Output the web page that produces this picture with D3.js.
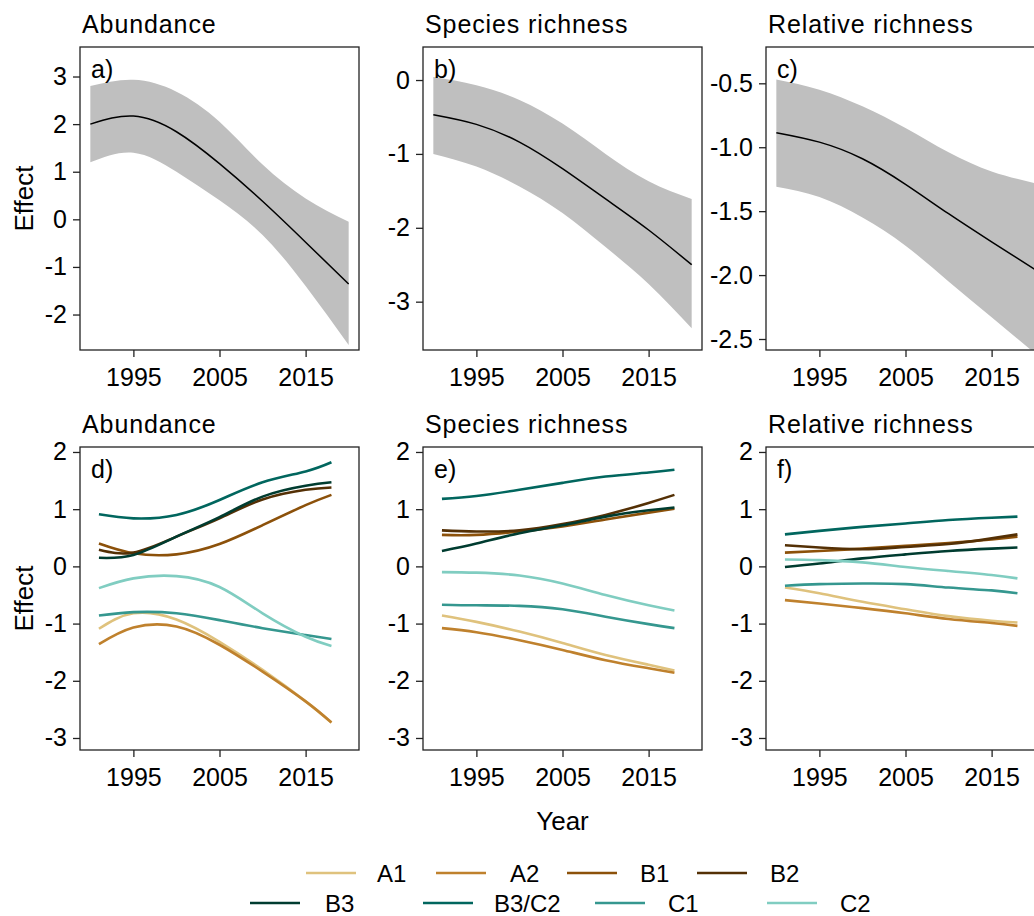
<!DOCTYPE html>
<html>
<head>
<meta charset="utf-8">
<script src="https://cdn.jsdelivr.net/npm/d3@7"></script>
<style>
  html, body { margin: 0; padding: 0; background: #fff; }
  svg { display: block; }
  text { font-family: "Liberation Sans", Arial, Helvetica, sans-serif; fill: #000; }
</style>
</head>
<body>
<svg id="chart" width="1034" height="916"></svg>
<script>
// ---- Top row: overall trend with confidence band ----
const topTitles = ["Abundance", "Species richness", "Relative richness"];
const topLetters = ["a)", "b)", "c)"];

const yearsA = [1990, 1995, 2000, 2005, 2010, 2015, 2020];
const meanA  = [2.00, 2.17, 1.84, 1.17, 0.38, -0.48, -1.36];
const lowA   = [1.20, 1.40, 1.00, 0.40, -0.33, -1.40, -2.64];
const highA  = [2.80, 2.93, 2.68, 2.05, 1.15, 0.44, -0.05];

const yearsB = [1990, 1995, 2000, 2005, 2010, 2015, 2020];
const meanB  = [-0.47, -0.60, -0.84, -1.20, -1.61, -2.03, -2.50];
const lowB   = [-1.00, -1.17, -1.44, -1.80, -2.26, -2.76, -3.36];
const highB  = [0.04, -0.07, -0.27, -0.59, -1.00, -1.37, -1.61];

const yearsC = [1990, 1995, 2000, 2005, 2010, 2015, 2020];
const meanC  = [-0.886, -0.96, -1.09, -1.29, -1.52, -1.74, -1.955];
const lowC   = [-1.31, -1.39, -1.55, -1.77, -2.05, -2.33, -2.61];
const highC  = [-0.47, -0.55, -0.68, -0.85, -1.04, -1.19, -1.28];

const topYTicks = [[-2, -1, 0, 1, 2, 3], [-3, -2, -1, 0], [-2.5, -2.0, -1.5, -1.0, -0.5]];
const topYDomains = [[-2.745, 3.62], [-3.654, 0.447], [-2.586, -0.216]];
const topYDecimals = [0, 0, 1];

// ---- Bottom row: trends by group ----
const bottomTitles = ["Abundance", "Species richness", "Relative richness"];
const bottomLetters = ["d)", "e)", "f)"];
const groups = ["A1", "A2", "B1", "B2", "B3", "B3/C2", "C1", "C2"];
const groupColors = ["#dfc27d", "#bf812d", "#8c510a", "#543005", "#003c30", "#01665e", "#35978f", "#80cdc1"];
const groupYears = [1991, 1995, 2000, 2005, 2010, 2015, 2018];

// abundance, per group (same order as groups)
const abundance = [
  [-1.09, -0.82, -0.93, -1.32, -1.81, -2.36, -2.73],  // A1
  [-1.36, -1.07, -1.05, -1.37, -1.84, -2.36, -2.73],  // A2
  [0.40, 0.23, 0.21, 0.39, 0.72, 1.07, 1.25],         // B1
  [0.29, 0.24, 0.52, 0.84, 1.17, 1.34, 1.38],         // B2
  [0.15, 0.20, 0.52, 0.86, 1.22, 1.41, 1.47],         // B3
  [0.91, 0.84, 0.90, 1.16, 1.47, 1.66, 1.82],         // B3/C2
  [-0.86, -0.80, -0.82, -0.94, -1.08, -1.20, -1.27],  // C1
  [-0.38, -0.21, -0.17, -0.36, -0.82, -1.23, -1.39]   // C2
];
// species richness
const richness = [
  [-0.86, -0.97, -1.14, -1.34, -1.55, -1.72, -1.82],
  [-1.08, -1.15, -1.29, -1.46, -1.64, -1.78, -1.86],
  [0.55, 0.55, 0.61, 0.70, 0.82, 0.94, 1.01],
  [0.63, 0.61, 0.63, 0.74, 0.90, 1.11, 1.25],
  [0.27, 0.40, 0.58, 0.72, 0.87, 0.98, 1.03],
  [1.18, 1.23, 1.34, 1.46, 1.57, 1.64, 1.69],
  [-0.67, -0.68, -0.69, -0.75, -0.88, -1.01, -1.08],
  [-0.10, -0.11, -0.16, -0.30, -0.50, -0.68, -0.77]
];
// relative richness
const relRichness = [
  [-0.37, -0.47, -0.62, -0.75, -0.87, -0.95, -0.98],
  [-0.59, -0.65, -0.73, -0.82, -0.92, -0.99, -1.04],
  [0.24, 0.27, 0.31, 0.36, 0.41, 0.47, 0.52],
  [0.37, 0.33, 0.30, 0.34, 0.39, 0.49, 0.56],
  [-0.01, 0.05, 0.14, 0.21, 0.27, 0.31, 0.33],
  [0.56, 0.62, 0.69, 0.75, 0.81, 0.85, 0.87],
  [-0.34, -0.31, -0.30, -0.31, -0.37, -0.42, -0.47],
  [0.12, 0.11, 0.07, -0.01, -0.08, -0.15, -0.21]
];
const bottomYTicks = [-3, -2, -1, 0, 1, 2];
const bottomYDomain = [-3.21, 2.087];

const xTicks = [1995, 2005, 2015];
const xDomain = [1988.8, 2021.2];

// ---- layout ----
const svg = d3.select("#chart");
const colLeft = [80, 423, 766];
const boxW = 279;
const rowTop = [47, 447];
const boxH = 303;
const tickLen = 7;
const fontTick = 25;
const fontFamily = '"Liberation Sans", Arial, sans-serif';

// plain hyphen for negative numbers
const fmt = dec => v => v.toFixed(dec);

function txt(g, s, x, y, opts = {}) {
  const t = g.append("text").attr("x", x).attr("y", y).text(s)
    .style("font-size", (opts.size || fontTick) + "px");
  if (opts.anchor) t.attr("text-anchor", opts.anchor);
  if (opts.ls) t.style("letter-spacing", opts.ls + "px");
  if (opts.rotate) t.attr("transform", `rotate(${opts.rotate},${x},${y})`);
  return t;
}

function panel(col, row, yDomain, yTicks, yFmt, title, letter, drawFn) {
  const x0 = colLeft[col], y0 = rowTop[row];
  const x = d3.scaleLinear().domain(xDomain).range([x0, x0 + boxW]);
  const y = d3.scaleLinear().domain(yDomain).range([y0 + boxH, y0]);
  const g = svg.append("g");

  const clipId = `clip-${row}-${col}`;
  g.append("clipPath").attr("id", clipId).append("rect")
    .attr("x", x0).attr("y", y0).attr("width", boxW).attr("height", boxH);
  const inner = g.append("g").attr("clip-path", `url(#${clipId})`);
  drawFn(inner, x, y);

  // frame
  g.append("rect").attr("x", x0).attr("y", y0).attr("width", boxW).attr("height", boxH)
    .attr("fill", "none").attr("stroke", "#222").attr("stroke-width", 1.3);

  // y axis
  const ya = g.append("g").attr("transform", `translate(${x0},0)`)
    .call(d3.axisLeft(y).tickValues(yTicks).tickFormat(yFmt).tickSize(tickLen).tickPadding(6));
  ya.select(".domain").remove();
  ya.selectAll("line").attr("stroke", "#222").attr("stroke-width", 1.3);
  ya.selectAll("text").style("font-size", fontTick + "px")
    .style("font-family", fontFamily).attr("fill", "#000");

  // x axis
  const xa = g.append("g").attr("transform", `translate(0,${y0 + boxH})`)
    .call(d3.axisBottom(x).tickValues(xTicks).tickFormat(fmt(0)).tickSize(tickLen).tickPadding(11));
  xa.select(".domain").remove();
  xa.selectAll("line").attr("stroke", "#222").attr("stroke-width", 1.3);
  xa.selectAll("text").style("font-size", fontTick + "px")
    .style("font-family", fontFamily).attr("fill", "#000");

  txt(g, title, x0 + 2, y0 - 14, { size: 25, ls: 0.9 });
  txt(g, letter, x0 + 11, y0 + 31, { size: 25 });
}

function bandPanel(years, mean, low, high) {
  return (g, x, y) => {
    const rows = years.map((yr, i) => ({ yr, m: mean[i], lo: low[i], hi: high[i] }));
    g.append("path").datum(rows)
      .attr("d", d3.area().x(d => x(d.yr)).y0(d => y(d.lo)).y1(d => y(d.hi)).curve(d3.curveNatural))
      .attr("fill", "#bfbfbf");
    g.append("path").datum(rows)
      .attr("d", d3.line().x(d => x(d.yr)).y(d => y(d.m)).curve(d3.curveNatural))
      .attr("fill", "none").attr("stroke", "#000").attr("stroke-width", 1.5);
  };
}

function groupPanel(values) {
  return (g, x, y) => {
    const line = d3.line().x(d => x(d[0])).y(d => y(d[1])).curve(d3.curveNatural);
    values.forEach((vals, k) => {
      g.append("path").datum(groupYears.map((yr, i) => [yr, vals[i]]))
        .attr("d", line).attr("fill", "none")
        .attr("stroke", groupColors[k]).attr("stroke-width", 2.6);
    });
  };
}

const topData = [[yearsA, meanA, lowA, highA], [yearsB, meanB, lowB, highB], [yearsC, meanC, lowC, highC]];
topData.forEach((d, i) => {
  panel(i, 0, topYDomains[i], topYTicks[i], fmt(topYDecimals[i]), topTitles[i], topLetters[i], bandPanel(...d));
});
[abundance, richness, relRichness].forEach((vals, i) => {
  panel(i, 1, bottomYDomain, bottomYTicks, fmt(0), bottomTitles[i], bottomLetters[i], groupPanel(vals));
});

// axis titles
txt(svg, "Effect", 33, rowTop[0] + boxH / 2, { size: 26, anchor: "middle", rotate: -90 });
txt(svg, "Effect", 33, rowTop[1] + boxH / 2, { size: 26, anchor: "middle", rotate: -90 });
txt(svg, "Year", colLeft[1] + boxW / 2, 830, { size: 26, anchor: "middle" });

// legend (two rows)
const legendPos = [
  [306, 873], [436, 873], [567, 873], [697, 873],
  [250, 903], [423, 903], [595, 903], [767, 903]
];
const legendLabelDx = [71, 74, 73, 73, 75, 71, 73, 73];
const leg = svg.append("g");
groups.forEach((name, k) => {
  const [lx, ly] = legendPos[k];
  leg.append("line").attr("x1", lx).attr("x2", lx + 50).attr("y1", ly).attr("y2", ly)
    .attr("stroke", groupColors[k]).attr("stroke-width", 2.6);
  txt(leg, name, lx + legendLabelDx[k], ly + 9, { size: 24 });
});
</script>
</body>
</html>
